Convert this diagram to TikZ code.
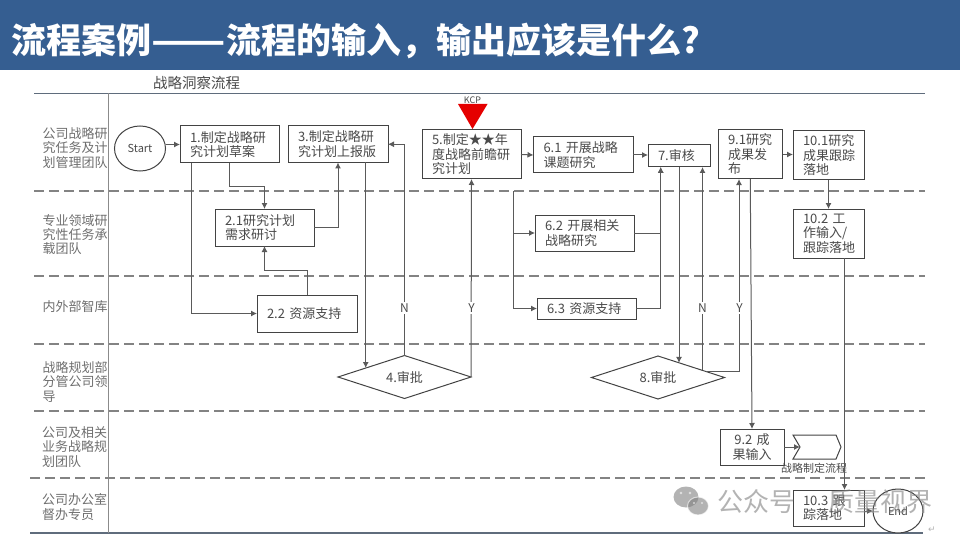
\documentclass[tikz,border=0pt]{standalone}
\usepackage{fontspec}
\setmainfont{Noto Sans CJK SC}
\newfontfamily\symfont{DejaVu Sans}
\usetikzlibrary{arrows.meta,shapes.geometric}
\definecolor{barblue}{HTML}{355E91}
\definecolor{rulegray}{HTML}{5F6C7C}
\definecolor{inkgray}{HTML}{4A4A4A}
\definecolor{flowgray}{HTML}{5A5A5A}
\tikzset{
  stepbox/.style 2 args={draw=inkgray!90!black,line width=1pt,fill=white,text=inkgray,outer sep=0pt,
    inner xsep=10pt,inner ysep=0pt,text width=#1,minimum height=#2,align=left,
    font=\fontsize{13}{14.5}\selectfont},
  ovalbox/.style={ellipse,draw=inkgray!90!black,line width=1pt,fill=white,text=inkgray,inner sep=0pt,outer sep=0pt,
    minimum width=51pt,minimum height=45pt,font=\fontsize{11}{13}\selectfont},
  checkbox/.style={diamond,draw=inkgray!90!black,line width=1pt,fill=white,text=inkgray,inner sep=0pt,outer sep=0pt,
    aspect=3,minimum width=133pt,minimum height=43pt,font=\fontsize{13}{14.5}\selectfont},
  lanelabel/.style={anchor=west,align=left,text=inkgray!80,inner sep=0pt,font=\fontsize{13}{14.2}\selectfont},
  flow/.style={-{Latex[length=6pt,width=6pt]},draw=flowgray,line width=1pt},
  branch/.style={fill=white,text=inkgray,inner sep=1.5pt,font=\fontsize{12}{14}\selectfont},
}
\begin{document}
\begin{tikzpicture}[x=1pt,y=-1pt]
  \useasboundingbox (0,0) rectangle (960,540);
  \fill [barblue] (0,0) rectangle (960,70);
  \node (title) [anchor=west,text=white,inner sep=0pt,font=\fontsize{35}{38}\selectfont\bfseries] at (11.5,41) {流程案例\scalebox{1.24}[1]{——}流程的输入，输出应该是什么?};

  % swim lanes
  \draw [rulegray,line width=1.5pt] (34,93.5) -- (925,93.5);
  \draw [rulegray,line width=1.5pt] (30,533) -- (923,533);
  \draw [flowgray!70,line width=1pt] (108.5,93.5) -- (108.5,533);
  \foreach \y in {191,276,344,411} {
    \draw [flowgray!75,line width=1.1pt,dash pattern=on 10pt off 5pt] (34,\y) -- (925,\y);
  }
  \draw [flowgray!75,line width=1.1pt,dash pattern=on 10pt off 5pt] (30,478) -- (925,478);

  \node (caption) [text=inkgray,font=\fontsize{14.5}{16}\selectfont] at (196.5,82.5) {战略洞察流程};
  \node (lane1) [lanelabel] at (42.5,148) {公司战略研\\究任务及计\\划管理团队};
  \node (lane2) [lanelabel] at (42.5,234.5) {专业领域研\\究性任务承\\载团队};
  \node (lane3) [lanelabel] at (42.5,306.5) {内外部智库};
  \node (lane4) [lanelabel] at (42.5,382) {战略规划部\\分管公司领\\导};
  \node (lane5) [lanelabel] at (42,447) {公司及相关\\业务战略规\\划团队};
  \node (lane6) [lanelabel] at (42,507) {公司办公室\\督办专员};

  % steps
  \node (start) [ovalbox] at (140,148.5) {Start};
  \node (box1) [stepbox={79pt}{37pt}] at (229.5,144.5) {1.制定战略研\\究计划草案};
  \node (box3) [stepbox={80pt}{36.5pt}] at (338,144.25) {3.制定战略研\\究计划上报版};
  \node (box21) [stepbox={79pt}{37pt}] at (264.5,227.5) {2.1研究计划\\需求研讨};
  \node (box22) [stepbox={80pt}{37pt}] at (307,313.5) {2.2 资源支持};
  \node (box5) [stepbox={79pt}{49pt}] at (471.5,154.5) {5.制定★★年\\度战略前瞻研\\究计划};
  \node (box61) [stepbox={79.5pt}{36pt}] at (583.25,155) {6.1 开展战略\\课题研究};
  \node (box62) [stepbox={79pt}{36pt}] at (584.5,233) {6.2 开展相关\\战略研究};
  \node (box63) [stepbox={79pt}{21pt}] at (586.5,308.5) {6.3 资源支持};
  \node (box7) [stepbox={42pt}{22pt}] at (679,156) {7.审核};
  \node (box91) [stepbox={44.5pt}{49pt}] at (750.25,154.5) {9.1研究\\成果发\\布};
  \node (box92) [stepbox={44pt}{36pt},align=center] at (752,447) {9.2 成\\果输入};
  \node (box101) [stepbox={51pt}{49pt}] at (828.5,155.5) {10.1研究\\成果跟踪\\落地};
  \node (box102) [stepbox={51pt}{49pt}] at (828.5,233.5) {10.2 工\\作输入/\\跟踪落地};
  \node (box103) [stepbox={51pt}{36pt}] at (828.5,508) {10.3 跟\\踪落地};
  \node (dia4) [checkbox] at (404.5,377) {4.审批};
  \node (dia8) [checkbox] at (658,377.5) {8.审批};
  \node (end) [ovalbox,minimum width=50pt,minimum height=44pt] at (898,511) {End};

  % kcp marker
  \fill [red!90!black] (458,104) -- (487.5,104) -- (472.5,129) -- cycle;
  \node (kcp) [text=inkgray,inner sep=0pt,font=\fontsize{9}{10}\selectfont] at (472.5,100.5) {KCP};

  % off-page link
  \draw [inkgray!90!black,line width=1pt,fill=white] (793,435) -- (836,435) -- (841,447) -- (836,459) -- (793,459) -- (800,447) -- cycle;
  \coordinate (chevron) at (800,447);
  \node (chevlabel) [text=inkgray,inner sep=0pt,font=\fontsize{11}{12}\selectfont] at (814,468) {战略制定流程};

  % connectors
  \draw [flow] (start.east |- box1.west) -- (box1.west);
  \draw [flow] (box1.south) -- ++(0,23.7) -| (box21.north);
  \draw [flow] ([xshift=-37.8pt]box1.south) |- (box22.west);
  \draw [flow] (box21.east) -| (box3.south);
  \draw [flow] (box22.north) -- ++(0,-25) -| (box21.south);
  \draw [flow] ([xshift=27.7pt]box3.south) -- ([xshift=-38.8pt,yshift=9pt]dia4.center);
  \draw [flow] (dia4.north) |- (box3.east);
  \draw [flow] (dia4.east) -- (box5.south);
  \node (no4) [branch] at (404.5,308) {N};
  \node (yes4) [branch] at (471.5,308) {Y};

  \draw [flow] (box5.east) -- (box61.west);
  \coordinate (split5) at (513,191);
  \draw [flow] (split5) |- (box62.west);
  \draw [flow] (split5) |- (box63.west);
  \draw [flow] (box61.east) -- (box7.west |- box61.east);
  \draw [flow] (box62.east) -| ([xshift=-18.3pt]box7.south);
  \draw [flow] (box63.east) -| ([xshift=-18.3pt]box7.south);
  \draw [flow] (box7.south) -- ([xshift=21pt,yshift=14.6pt]dia8.center);
  \draw [flow] ([xshift=44.5pt,yshift=8pt]dia8.center) -- ([xshift=23.5pt]box7.south);
  \draw [flow] ([xshift=48pt,yshift=5.8pt]dia8.center) -| ([xshift=-11.25pt]box91.south);
  \node (no8) [branch] at (702.5,308) {N};
  \node (yes8) [branch] at (739.5,308) {Y};

  \draw [flow] (box91.south) -- (box92.north);
  \draw [flow] (box92.east) -- (chevron);
  \draw [flow] (box91.east) -- (box101.west |- box91.east);
  \draw [flow] (box101.south) -- (box102.north);
  \draw [flow] ([xshift=16pt]box102.south) -- ([xshift=16pt]box103.north);
  \draw [flow] (box103.east |- end.west) -- (end.west);

  % page furniture
  \node (retmark) [text=gray!60,inner sep=0pt,font=\symfont\fontsize{9}{10}\selectfont] at (932,530) {↵};
  \begin{scope}[opacity=0.6]
    \fill [gray] (686,497) ellipse (12.5 and 10.5);
    \fill [gray,draw=white,line width=1pt] (698,506) ellipse (10.5 and 9);
    \fill [white] (681,493) circle (1.3) (690,493) circle (1.3) (694,503) circle (1.2) (702,503) circle (1.2);
  \end{scope}
  \node (mark) [anchor=west,text=gray,text opacity=0.6,inner sep=0pt,font=\fontsize{26}{28}\selectfont] at (717,502) {公众号\hspace{33pt}质量视界};
\end{tikzpicture}
\end{document}
